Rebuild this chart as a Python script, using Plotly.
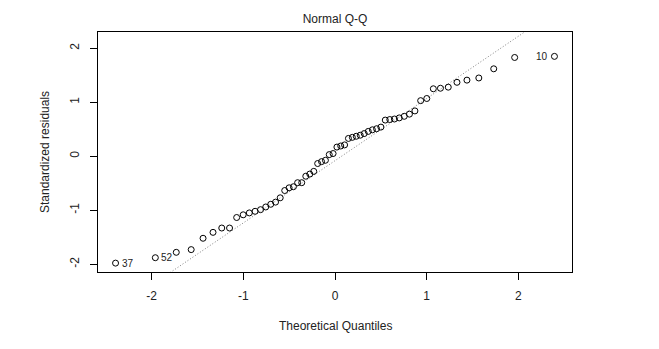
from statistics import NormalDist
import numpy as np
import plotly.graph_objects as go

# Sorted standardized residuals of the fitted model (n = 60)
std_resid = [
    -1.98, -1.88, -1.78, -1.73, -1.52, -1.41, -1.33, -1.33, -1.135, -1.085,
    -1.05, -1.02, -0.99, -0.94, -0.89, -0.85, -0.77, -0.635, -0.585, -0.565,
    -0.49, -0.49, -0.37, -0.33, -0.28, -0.135, -0.10, -0.075, 0.03, 0.05,
    0.17, 0.19, 0.21, 0.33, 0.35, 0.37, 0.39, 0.42, 0.46, 0.49,
    0.51, 0.54, 0.67, 0.68, 0.69, 0.71, 0.74, 0.78, 0.84, 1.03,
    1.07, 1.25, 1.26, 1.28, 1.37, 1.41, 1.45, 1.62, 1.83, 1.85,
]
# Observation ids flagged on the plot (index into the sorted residuals)
flag_index = [0, 1, 59]
flag_label = ["37", "52", "10"]
x_ticks = [-2, -1, 0, 1, 2]
y_ticks = [-2, -1, 0, 1, 2]

n = len(std_resid)
nd = NormalDist()
# ppoints() for n > 10: (i - 0.5) / n
theo = [nd.inv_cdf((i - 0.5) / n) for i in range(1, n + 1)]
y = np.array(std_resid)

# qqline through the first and third quartiles
q1, q3 = np.quantile(y, [0.25, 0.75])
z1, z3 = nd.inv_cdf(0.25), nd.inv_cdf(0.75)
slope = (q3 - q1) / (z3 - z1)
intercept = q1 - slope * z1

# Axis limits as in base graphics (extra headroom on top, 4% padding)
xlo, xhi = min(theo), max(theo)
pad = 0.04 * (xhi - xlo)
xr = [xlo - pad, xhi + pad]
ylo, yhi = y.min(), y.max()
yhi = yhi + 0.075 * (yhi - ylo)
pad = 0.04 * (yhi - ylo)
yr = [ylo - pad, yhi + pad]

line_x = [xr[0] - 1, xr[1] + 1]
line_y = [intercept + slope * v for v in line_x]

FONT = "Liberation Sans, Arial, sans-serif"
TXT = "#222222"

fig = go.Figure()
fig.add_trace(go.Scatter(
    x=line_x, y=line_y, mode="lines",
    line=dict(color="#808080", width=1, dash="1px,2px"),
    hoverinfo="skip", showlegend=False,
))
fig.add_trace(go.Scatter(
    x=theo, y=std_resid, mode="markers",
    marker=dict(symbol="circle-open", size=6, color="black",
                line=dict(width=1, color="black")),
    showlegend=False,
))

# Point labels for the flagged observations
point_labels = []
for i, lab in zip(flag_index, flag_label):
    left_side = theo[i] < 0
    point_labels.append(dict(
        x=theo[i], y=std_resid[i], xref="x", yref="y", text=lab,
        showarrow=False, xanchor="left" if left_side else "right",
        yanchor="middle", xshift=4 if left_side else -4,
        font=dict(family=FONT, size=10, color=TXT),
    ))

axis_common = dict(
    showgrid=False, zeroline=False,
    showline=True, linecolor="black", linewidth=1, mirror=True,
    ticks="outside", ticklen=7, tickwidth=1, tickcolor="black",
    tickfont=dict(family=FONT, size=12, color=TXT),
)

fig.update_layout(
    width=659, height=349,
    margin=dict(l=98, r=87, t=32, b=77),
    paper_bgcolor="white", plot_bgcolor="white",
    font=dict(family=FONT, size=12, color=TXT),
    title=dict(text="Normal Q-Q", x=(98 + 572) / 2 / 659, xanchor="center",
               y=1 - 19 / 349, yanchor="middle", yref="container",
               font=dict(size=12, color=TXT)),
    xaxis=dict(range=xr, tickvals=x_ticks, ticktext=[str(v) for v in x_ticks],
               ticklabelstandoff=6, **axis_common),
    yaxis=dict(range=yr, tickvals=y_ticks, ticktext=[str(v) for v in y_ticks],
               tickangle=-90, ticklabelstandoff=6, **axis_common),
    annotations=point_labels + [
        dict(text="Theoretical Quantiles", xref="paper", yref="paper",
             x=0.5, y=0, xanchor="center", yanchor="middle", yshift=-54,
             showarrow=False, font=dict(size=12, color=TXT)),
        dict(text="Standardized residuals", xref="paper", yref="paper",
             x=0, y=0.5, xanchor="center", yanchor="middle", xshift=-53,
             textangle=-90, showarrow=False, font=dict(size=12, color=TXT)),
    ],
)

fig.write_html("out.html")
